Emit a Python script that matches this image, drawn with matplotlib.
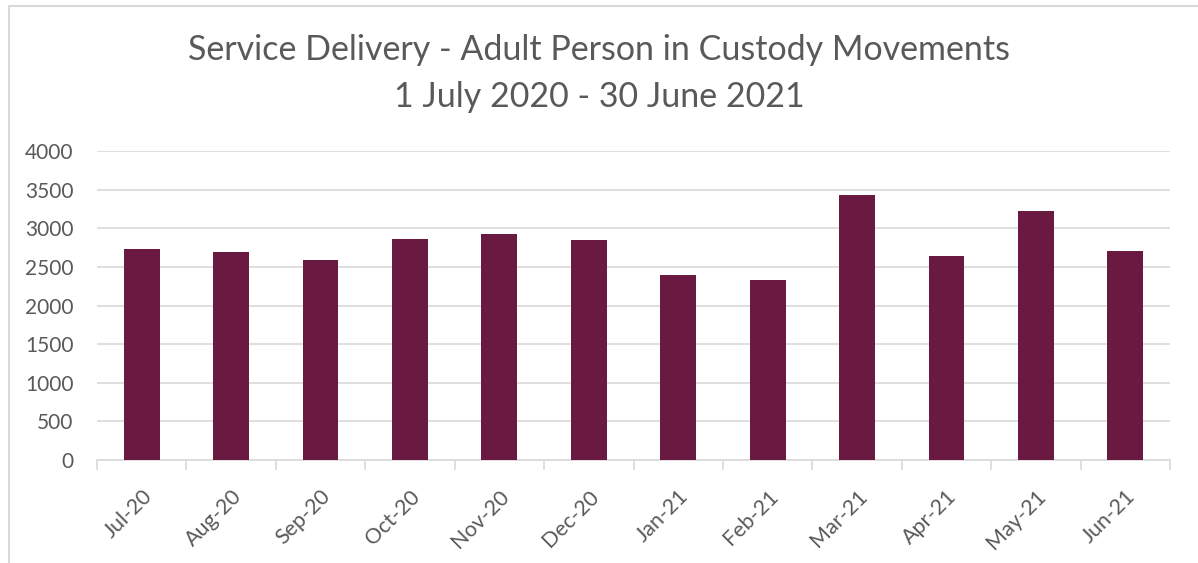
import matplotlib.pyplot as plt
import numpy as np
from matplotlib.patches import Rectangle

months = ['Jul-20', 'Aug-20', 'Sep-20', 'Oct-20', 'Nov-20', 'Dec-20',
          'Jan-21', 'Feb-21', 'Mar-21', 'Apr-21', 'May-21', 'Jun-21']
movements = [2727, 2693, 2585, 2857, 2926, 2844,
             2391, 2330, 3426, 2637, 3219, 2706]
yticks = [0, 500, 1000, 1500, 2000, 2500, 3000, 3500, 4000]

BAR = '#6A1A41'
TXT = '#595959'
GRID = '#D9D9D9'

plt.rcParams['font.family'] = ['Lato', 'DejaVu Sans']

fig = plt.figure(figsize=(11.98, 5.63), dpi=100)
ax = fig.add_axes([97/1198, 1-460/563, (1170-97)/1198, (460-151)/563])

x = np.arange(len(months))
ax.bar(x, movements, width=0.4, color=BAR, zorder=3)

ax.set_xlim(-0.5, len(months)-0.5)
ax.set_ylim(0, 4000)
ax.set_yticks(yticks)
ax.set_yticklabels([str(v) for v in yticks], fontsize=15, color=TXT)
ax.tick_params(axis='y', length=0, pad=17)
ax.grid(axis='y', color=GRID, linewidth=1.2, zorder=0)

# category boundary ticks, labels at centres
ax.set_xticks(np.arange(-0.5, len(months)), minor=False)
ax.set_xticklabels([])
ax.set_xticks(x, minor=True)
ax.set_xticklabels(months, minor=True, rotation=45, ha='right',
                   rotation_mode='anchor', fontsize=15.5, color=TXT)
ax.tick_params(axis='x', which='major', length=7, color=GRID, width=1.2)
ax.tick_params(axis='x', which='minor', length=0, pad=19)

for s in ['top', 'right', 'left']:
    ax.spines[s].set_visible(False)
ax.spines['bottom'].set_color(GRID)
ax.spines['bottom'].set_linewidth(1.2)

fig.text(0.5, 1-50/563, 'Service Delivery - Adult Person in Custody Movements',
         ha='center', va='center', fontsize=24.5, color=TXT)
fig.text(0.5, 1-97/563, '1 July 2020 - 30 June 2021',
         ha='center', va='center', fontsize=24.5, color=TXT)

# outer chart border (only left and top visible in the crop)
fig.patches.append(Rectangle((8.5/1198, -0.1), 1.2, 1.1 - 6.5/563,
                             transform=fig.transFigure, fill=False,
                             edgecolor=GRID, linewidth=1.5))

fig.savefig('out.png', dpi=100)
